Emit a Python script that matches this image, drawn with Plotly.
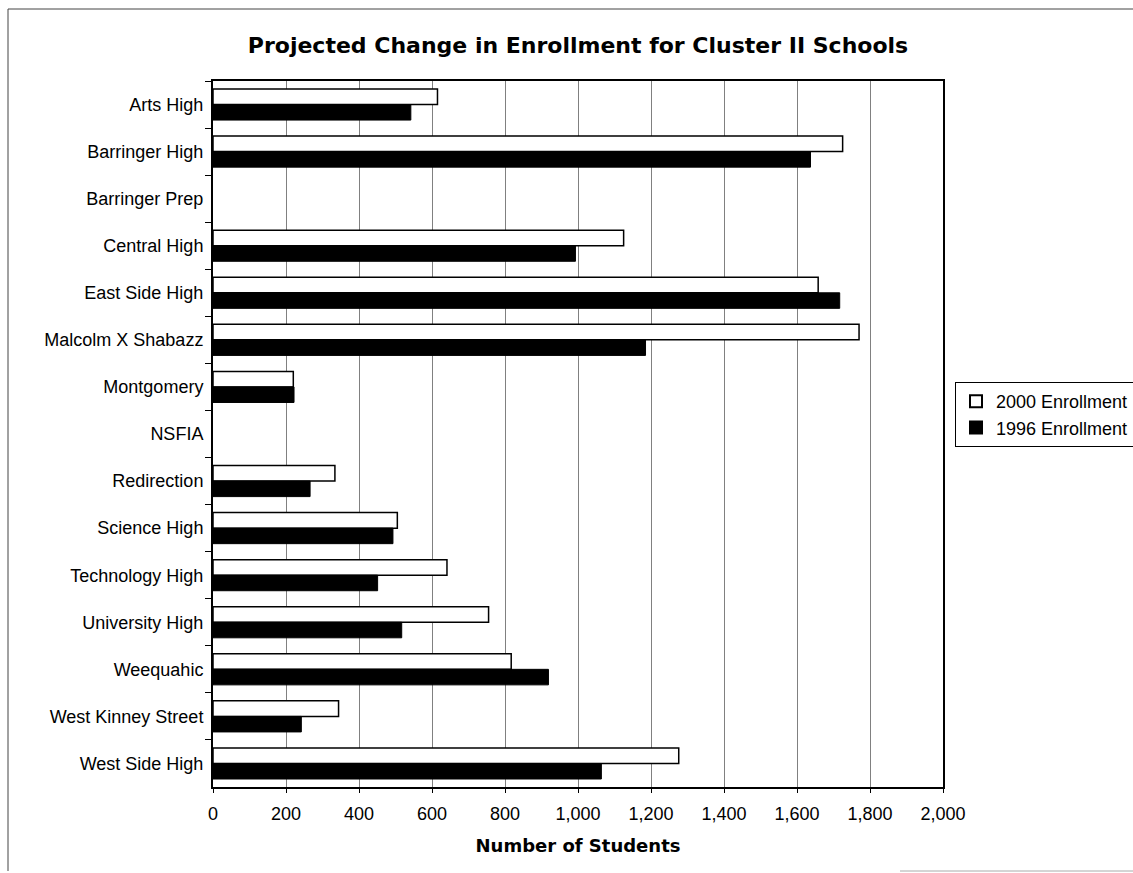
import plotly.graph_objects as go

schools = [
    "Arts High", "Barringer High", "Barringer Prep", "Central High",
    "East Side High", "Malcolm X Shabazz", "Montgomery", "NSFIA",
    "Redirection", "Science High", "Technology High", "University High",
    "Weequahic", "West Kinney Street", "West Side High",
]
enroll_2000 = [615, 1725, None, 1125, 1658, 1770, 220, None,
               334, 505, 641, 755, 817, 344, 1276]
enroll_1996 = [542, 1637, None, 993, 1717, 1185, 222, None,
               266, 493, 451, 517, 919, 242, 1064]
x_ticks = list(range(0, 2001, 200))

# plot-area placement in pixels
W, H = 1133, 873
L, R, T, B = 213, 190, 81, 86
PW, PH = W - L - R, H - T - B


def px_x(p):
    return (p - L) / PW


def px_y(p):
    return 1 - (p - T) / PH


fig = go.Figure()
fig.add_trace(go.Bar(
    y=schools, x=enroll_2000, orientation="h", name="2000 Enrollment",
    marker=dict(color="white", line=dict(color="black", width=1.5)),
))
fig.add_trace(go.Bar(
    y=schools, x=enroll_1996, orientation="h", name="1996 Enrollment",
    marker=dict(color="black", line=dict(color="black", width=1)),
))

label_font = "Liberation Sans, Arial, sans-serif"
bold_font = "DejaVu Sans, Arial, sans-serif"

fig.update_layout(
    width=W, height=H,
    margin=dict(l=L, r=R, t=T, b=B, pad=0, autoexpand=False),
    paper_bgcolor="white", plot_bgcolor="white",
    barmode="group", bargap=0.34, bargroupgap=0.0,
    font=dict(family=label_font, color="black", size=16),
    title=dict(
        text="<b>Projected Change in Enrollment for Cluster II Schools</b>",
        font=dict(family=bold_font, size=22, color="black"),
        x=0.5, xref="paper", xanchor="center",
        y=1 - 45 / H, yref="container", yanchor="middle",
    ),
    xaxis=dict(
        range=[0, 2000], tickvals=x_ticks, tickformat=",",
        showgrid=True, gridcolor="#808080", gridwidth=1,
        showline=True, linecolor="black", linewidth=2, mirror=True,
        ticks="outside", ticklen=4, tickcolor="black",
        ticklabelstandoff=5,
        tickfont=dict(family=label_font, size=18, color="black"),
        zeroline=False,
        title=dict(text="<b>Number of Students</b>",
                   font=dict(family=bold_font, size=18, color="black"),
                   standoff=17),
    ),
    yaxis=dict(
        autorange="reversed", type="category",
        showgrid=False,
        showline=True, linecolor="black", linewidth=2, mirror=True,
        ticks="outside", ticklen=6, tickcolor="black", tickson="boundaries",
        ticklabelstandoff=4,
        tickfont=dict(family=label_font, size=18, color="black"),
    ),
    legend=dict(
        x=px_x(955), y=px_y(382), xanchor="left", yanchor="top",
        bgcolor="white", bordercolor="black", borderwidth=1,
        font=dict(family=label_font, size=18, color="black"),
        traceorder="normal", itemwidth=30, itemsizing="constant",
        tracegroupgap=0,
    ),
    shapes=[
        dict(type="line", xref="paper", yref="paper",
             x0=px_x(8), x1=px_x(1140), y0=px_y(9), y1=px_y(9),
             line=dict(color="#444444", width=1)),
        dict(type="line", xref="paper", yref="paper",
             x0=px_x(8), x1=px_x(8), y0=px_y(9), y1=px_y(871),
             line=dict(color="#444444", width=1)),
        dict(type="line", xref="paper", yref="paper",
             x0=px_x(900), x1=px_x(1140), y0=px_y(871), y1=px_y(871),
             line=dict(color="#aaaaaa", width=1)),
    ],
)

fig.write_html("out.html")
